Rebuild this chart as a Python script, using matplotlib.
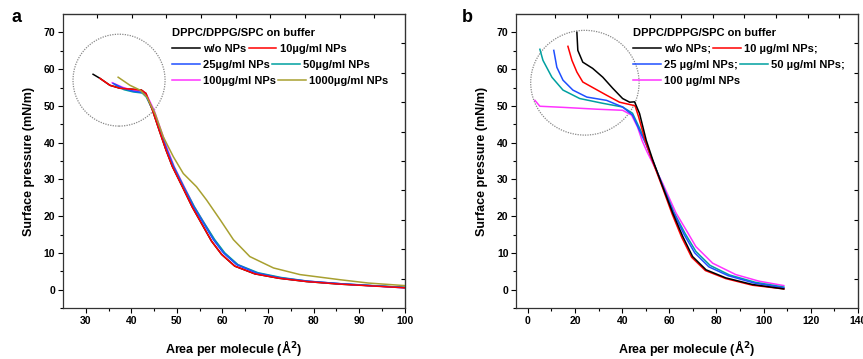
import matplotlib
matplotlib.use('Agg')

import numpy as np
import matplotlib.pyplot as plt
from matplotlib.patches import Ellipse

plt.rcParams['font.family'] = ['Liberation Sans', 'DejaVu Sans']
plt.rcParams['font.weight'] = 'bold'

# ---- panel a: isotherms (area per molecule, surface pressure)
a_wo_x = [31.6, 33.1, 35.3, 37.5, 40.4, 42.2, 43.2, 44.6, 46.1, 47.6, 49.0, 51.2, 53.4, 55.5, 57.6, 59.8, 62.7, 67.1, 72.4, 78.5, 85.8, 100]
a_wo_y = [58.6, 57.5, 55.6, 54.8, 54.5, 54.3, 53.4, 49.0, 43.4, 38.0, 33.5, 28.0, 22.4, 17.8, 13.2, 9.6, 6.4, 4.3, 3.1, 2.2, 1.5, 0.6]
a_10_x = [33.1, 35.3, 37.5, 40.4, 42.2, 43.2, 44.6, 46.1, 47.6, 49.0, 51.2, 53.4, 55.5, 57.6, 59.8, 62.7, 67.1, 72.4, 78.5, 85.8, 100]
a_10_y = [57.5, 55.6, 54.8, 54.5, 54.3, 53.4, 49.0, 43.4, 38.0, 33.5, 28.0, 22.4, 17.8, 13.2, 9.6, 6.4, 4.3, 3.1, 2.2, 1.5, 0.5]
a_25_x = [36.0, 38.2, 40.4, 42.6, 43.4, 44.8, 46.3, 47.8, 49.2, 51.4, 53.6, 55.8, 58.0, 60.2, 63.1, 67.5, 72.6, 78.5, 85.8, 100]
a_25_y = [56.1, 54.8, 54.0, 53.6, 52.4, 48.8, 43.4, 38.0, 33.5, 28.0, 22.6, 18.1, 13.6, 10.0, 6.8, 4.5, 3.2, 2.3, 1.6, 0.5]
a_50_x = [36.4, 38.4, 40.4, 42.4, 43.3, 44.7, 46.2, 47.8, 49.3, 51.5, 53.8, 56.0, 58.3, 60.5, 63.4, 67.8, 72.9, 78.8, 86.0, 100]
a_50_y = [55.8, 54.4, 53.8, 53.5, 52.4, 48.8, 43.4, 38.0, 33.5, 28.0, 22.6, 18.1, 13.6, 10.0, 6.8, 4.6, 3.3, 2.3, 1.6, 0.6]
a_100_x = [35.8, 38.2, 40.4, 42.8, 43.6, 45.0, 46.5, 48.0, 49.4, 51.6, 53.8, 56.0, 58.2, 60.4, 63.3, 67.7, 72.8, 78.7, 86.0, 100]
a_100_y = [56.3, 55.0, 54.2, 53.8, 52.4, 48.8, 43.4, 38.0, 33.5, 28.0, 22.6, 18.1, 13.6, 10.0, 6.8, 4.5, 3.2, 2.3, 1.6, 0.5]
a_1000_x = [37.1, 39.7, 41.9, 43.4, 45.2, 47.0, 49.2, 51.4, 54.3, 56.5, 59.5, 62.4, 66.0, 71.2, 77.0, 85.8, 92.0, 100]
a_1000_y = [57.8, 55.6, 54.3, 52.4, 47.9, 41.6, 36.2, 31.6, 28.0, 24.4, 19.0, 13.6, 9.0, 5.9, 4.1, 2.7, 1.8, 1.1]

# ---- panel b
b_wo_x = [20.8, 21.2, 23.3, 27.5, 31.8, 36.0, 40.2, 43.2, 45.3, 47.4, 50.2, 53.0, 57.2, 61.5, 65.7, 69.9, 75.6, 84.0, 95.3, 108.6]
b_wo_y = [70.0, 65.1, 61.9, 60.2, 57.8, 54.8, 52.0, 51.0, 51.1, 47.9, 40.7, 35.3, 28.0, 20.8, 14.5, 9.0, 5.4, 3.2, 1.4, 0.2]
b_10_x = [17.0, 18.7, 20.8, 23.3, 27.5, 33.4, 38.9, 44.4, 45.5, 47.0, 49.8, 52.7, 57.0, 61.2, 65.3, 69.5, 75.3, 84.0, 95.3, 108.6]
b_10_y = [66.2, 62.4, 59.2, 56.5, 55.0, 52.9, 51.0, 50.2, 50.0, 47.0, 40.5, 35.3, 28.0, 20.6, 14.2, 8.8, 5.2, 3.0, 1.2, 0.2]
b_25_x = [11.0, 12.3, 14.9, 19.1, 25.0, 33.4, 40.2, 44.4, 47.6, 50.2, 53.0, 57.2, 61.8, 66.3, 70.8, 76.8, 85.0, 96.0, 108.6]
b_25_y = [65.1, 60.5, 57.0, 54.3, 52.4, 51.5, 49.7, 47.5, 43.0, 39.5, 35.0, 28.2, 21.0, 15.0, 10.0, 6.2, 3.8, 1.8, 0.5]
b_50_x = [5.1, 6.4, 10.2, 14.9, 22.0, 31.8, 40.2, 44.4, 47.8, 50.2, 53.0, 57.2, 62.0, 66.7, 71.3, 77.3, 85.5, 96.5, 108.6]
b_50_y = [65.4, 62.4, 57.8, 54.3, 52.0, 50.7, 49.7, 48.0, 43.4, 39.6, 35.0, 28.3, 21.0, 15.3, 10.4, 6.6, 4.0, 2.0, 0.7]
b_100_x = [3.0, 5.1, 14.9, 29.2, 40.2, 44.0, 46.5, 48.5, 50.5, 53.0, 57.2, 62.9, 67.1, 71.3, 78.4, 88.2, 98.1, 108.6]
b_100_y = [51.5, 49.9, 49.6, 49.1, 48.8, 47.5, 44.3, 40.5, 37.6, 34.4, 28.9, 20.8, 16.3, 11.7, 7.2, 4.1, 2.3, 1.1]

colors = {'wo': '#000000', '10': '#ff0000', '25': '#1f4fff', '50': '#00a0a0',
          '100': '#ff33ff', '1000': '#a8a030'}

fig = plt.figure(figsize=(8.63, 3.59), dpi=100)
axa = fig.add_axes([0.073, 0.142, 0.396, 0.819])
axb = fig.add_axes([0.598, 0.142, 0.396, 0.819])

lw = 1.1
la = {}
la['wo'], = axa.plot(a_wo_x, a_wo_y, color=colors['wo'], lw=lw)
la['100'], = axa.plot(a_100_x, a_100_y, color=colors['100'], lw=lw)
la['50'], = axa.plot(a_50_x, a_50_y, color=colors['50'], lw=lw)
la['25'], = axa.plot(a_25_x, a_25_y, color=colors['25'], lw=lw)
la['10'], = axa.plot(a_10_x, a_10_y, color=colors['10'], lw=lw)
la['1000'], = axa.plot(a_1000_x, a_1000_y, color=colors['1000'], lw=lw)

lb = {}
lb['100'], = axb.plot(b_100_x, b_100_y, color=colors['100'], lw=lw)
lb['50'], = axb.plot(b_50_x, b_50_y, color=colors['50'], lw=lw)
lb['25'], = axb.plot(b_25_x, b_25_y, color=colors['25'], lw=lw)
lb['10'], = axb.plot(b_10_x, b_10_y, color=colors['10'], lw=lw)
lb['wo'], = axb.plot(b_wo_x, b_wo_y, color=colors['wo'], lw=lw)

# dotted circles around the plateau region
axa.add_patch(Ellipse((37.3, 57.0), 20.2, 25.0, fill=False, ls=(0, (1, 1)), color='#888888', lw=0.9))
axb.add_patch(Ellipse((24.2, 56.3), 46.0, 28.5, fill=False, ls=(0, (1, 1)), color='#888888', lw=0.9))

def style(ax, xlim, xmajor, xminor, top_ticks):
    ax.set_xlim(*xlim)
    ax.set_ylim(-5, 75)
    ax.set_xticks(xmajor)
    ax.set_xticks(xminor, minor=True)
    ax.set_yticks(np.arange(0, 71, 10))
    ax.set_yticks(np.arange(-5, 75, 10), minor=True)
    ax.tick_params(which='major', direction='out', length=3.5, width=0.8, labelsize=7.5, pad=2)
    ax.tick_params(which='minor', direction='out', length=2, width=0.8)
    for s in ax.spines.values():
        s.set_linewidth(0.9)
        s.set_color('#333333')
    sx = ax.secondary_xaxis('top')
    sx.set_xticks(top_ticks)
    sx.tick_params(direction='in', length=3, labeltop=False)
    sy = ax.secondary_yaxis('right')
    sy.set_yticks(np.arange(3, 70, 8))
    sy.tick_params(direction='in', length=3, labelright=False)
    ax.set_xlabel('Area per molecule (Å$^\\mathbf{2}$)', fontsize=9, fontweight='bold', labelpad=9)
    ax.set_ylabel('Surface pressure (mN/m)', fontsize=9, fontweight='bold', labelpad=6)

style(axa, (25, 100), np.arange(30, 101, 10), np.arange(35, 100, 10), np.arange(32.5, 99, 7.6))
style(axb, (-5, 140), np.arange(0, 141, 20), np.arange(10, 140, 20), np.arange(11.5, 138, 13.4))

# legends: one row each, so entries flow like the original
leg_kw = dict(loc='center left', frameon=False, prop={'size': 8, 'weight': 'bold'}, ncol=2,
              handlelength=2.5, handletextpad=0.3, columnspacing=0.2,
              borderpad=0, borderaxespad=0)
title = 'DPPC/DPPG/SPC on buffer'
rows_y = [0.881, 0.827, 0.772]

rows_a = [([la['wo'], la['10']], ['w/o NPs', '10µg/ml NPs']),
          ([la['25'], la['50']], ['25µg/ml NPs', '50µg/ml NPs']),
          ([la['100'], la['1000']], ['100µg/ml NPs', '1000µg/ml NPs'])]
rows_b = [([lb['wo'], lb['10']], ['w/o NPs;', '10 µg/ml NPs;']),
          ([lb['25'], lb['50']], ['25 µg/ml NPs;', '50 µg/ml NPs;']),
          ([lb['100']], ['100 µg/ml NPs'])]

for ax, rows, x0 in ((axa, rows_a, 0.319), (axb, rows_b, 0.342)):
    ax.text(x0, 0.935, title, transform=ax.transAxes, fontsize=8, fontweight='bold', va='center')
    for i, ((h, l), y) in enumerate(zip(rows, rows_y)):
        lg = ax.legend(h, l, bbox_to_anchor=(x0, y), **leg_kw)
        if i < len(rows) - 1:
            ax.add_artist(lg)

fig.text(0.013, 0.94, 'a', fontsize=13, fontweight='bold')
fig.text(0.535, 0.94, 'b', fontsize=13, fontweight='bold')

fig.savefig('out.png', dpi=100)
